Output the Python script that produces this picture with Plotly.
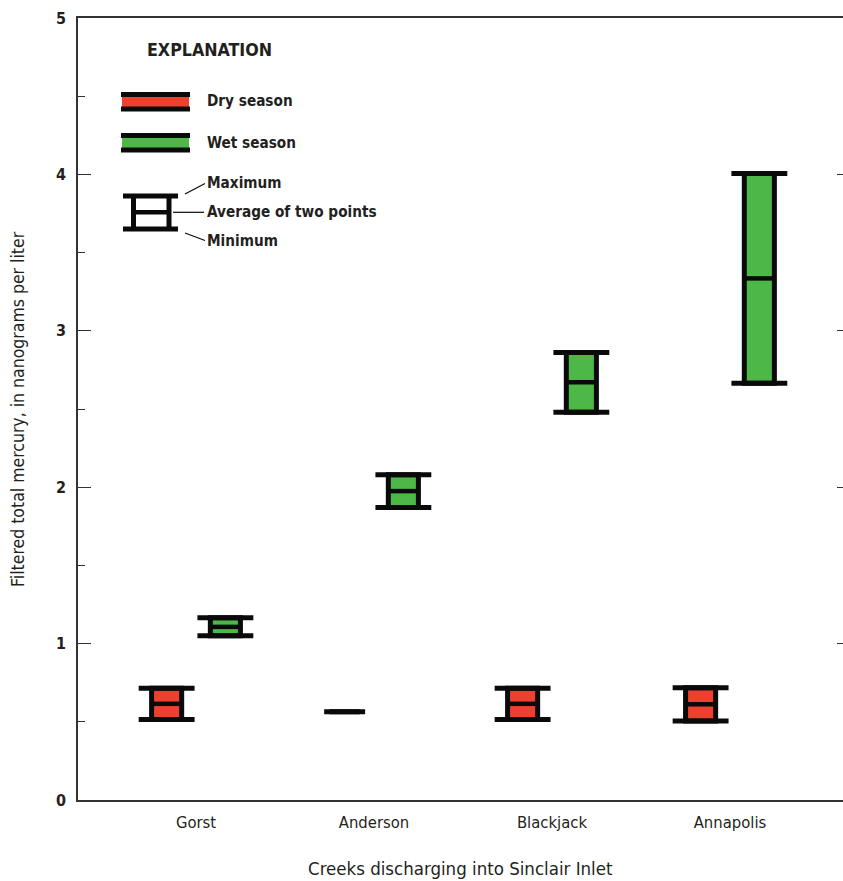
import plotly.graph_objects as go

# Filtered total mercury (ng/L) in creeks discharging into Sinclair Inlet
creeks = ["Gorst", "Anderson", "Blackjack", "Annapolis"]

dry_min = [0.515, 0.565, 0.515, 0.505]
dry_max = [0.715, 0.565, 0.715, 0.718]
dry_avg = [0.615, 0.565, 0.615, 0.612]

wet_min = [1.05, 1.87, 2.48, 2.665]
wet_max = [1.165, 2.08, 2.862, 4.005]
wet_avg = [1.107, 1.975, 2.671, 3.335]

y_ticks = [0, 1, 2, 3, 4, 5]

RED = "#EE402E"
GREEN = "#4DB848"
INK = "#0a0a0a"
FONT = "DejaVu Sans Condensed, Liberation Sans Narrow, Roboto, sans-serif"

SEASON_OFFSET = 0.165   # dry left of the creek, wet right
BOX_W = 0.169           # bar width in category units
CAP_HALF = 0.157        # half length of the min / max caps
FLAT_HALF = 0.115       # half length when min equals max

fig = go.Figure()


def add_season(mins, maxs, avgs, offset, color):
    xs = [i + offset for i in range(len(creeks))]
    fig.add_trace(go.Bar(
        x=xs, base=mins, y=[hi - lo for lo, hi in zip(mins, maxs)],
        width=BOX_W, marker=dict(color=color, line=dict(color=INK, width=5)),
        hoverinfo="skip", showlegend=False,
    ))
    cx, cy, mx, my = [], [], [], []
    for x, lo, hi, av in zip(xs, mins, maxs, avgs):
        if hi == lo:
            cx += [x - FLAT_HALF, x + FLAT_HALF, None]
            cy += [lo, lo, None]
            continue
        for v in (lo, hi):
            cx += [x - CAP_HALF, x + CAP_HALF, None]
            cy += [v, v, None]
        mx += [x - BOX_W / 2, x + BOX_W / 2, None]
        my += [av, av, None]
    fig.add_trace(go.Scatter(x=cx, y=cy, mode="lines",
                             line=dict(color=INK, width=5),
                             hoverinfo="skip", showlegend=False))
    fig.add_trace(go.Scatter(x=mx, y=my, mode="lines",
                             line=dict(color=INK, width=4.5),
                             hoverinfo="skip", showlegend=False))


add_season(dry_min, dry_max, dry_avg, -SEASON_OFFSET, RED)
add_season(wet_min, wet_max, wet_avg, SEASON_OFFSET, GREEN)

# carrier for the right-hand tick axis
fig.add_trace(go.Scatter(x=[None], y=[None], yaxis="y2", showlegend=False,
                         hoverinfo="skip"))

# ---- explanation block (pixel positions inside the figure) ----
L, R, T, B = 78, 843, 18, 800


def px(x):
    return (x - L) / (R - L)


def py(y):
    return (B - y) / (B - T)


shapes = []
annots = []


def hline(x0, x1, y, w=5):
    shapes.append(dict(type="line", xref="paper", yref="paper",
                       x0=px(x0), x1=px(x1), y0=py(y), y1=py(y),
                       line=dict(color=INK, width=w)))


def seg(x0, y0, x1, y1, w=1.2):
    shapes.append(dict(type="line", xref="paper", yref="paper",
                       x0=px(x0), x1=px(x1), y0=py(y0), y1=py(y1),
                       line=dict(color=INK, width=w)))


def rect(x0, x1, y0, y1, color):
    shapes.append(dict(type="rect", xref="paper", yref="paper",
                       x0=px(x0), x1=px(x1), y0=py(y1), y1=py(y0),
                       fillcolor=color, line=dict(width=0)))


def label(x, y, text, size=15.2):
    annots.append(dict(xref="paper", yref="paper", x=px(x), y=py(y),
                       xanchor="left", yanchor="middle", showarrow=False,
                       text="<b>%s</b>" % text,
                       font=dict(family=FONT, size=size, color="#231f20")))


label(145, 50, "EXPLANATION", size=17.7)

rect(122, 189, 96, 107, RED)
hline(121, 190, 94.5)
hline(121, 190, 109)
label(205, 101.5, "Dry season")

rect(122, 189, 137, 148, GREEN)
hline(121, 190, 135.5)
hline(121, 190, 150)
label(205, 142.5, "Wet season")

hline(123, 178, 196)
hline(123, 178, 229)
seg(133.5, 196, 133.5, 229, 5)
seg(169, 196, 169, 229, 5)
hline(133.5, 169, 212.3, 4.5)
seg(185, 194, 205, 183.5)
seg(173, 212.3, 204, 212.3)
seg(185, 233, 205, 240.5)
label(205, 183, "Maximum")
label(205, 212, "Average of two points")
label(205, 241, "Minimum")

# axis titles
annots.append(dict(xref="paper", yref="paper", x=px(460.5), y=py(869),
                   xanchor="center", yanchor="middle", showarrow=False,
                   text="Creeks discharging into Sinclair Inlet",
                   font=dict(family=FONT, size=18.5, color="#231f20")))
annots.append(dict(xref="paper", yref="paper", x=px(18), y=py(409),
                   xanchor="center", yanchor="middle", showarrow=False,
                   textangle=-90,
                   text="Filtered total mercury, in nanograms per liter",
                   font=dict(family=FONT, size=17.5, color="#231f20")))

fig.update_layout(
    width=843, height=881,
    margin=dict(l=L, r=0, t=T, b=881 - B),
    paper_bgcolor="white", plot_bgcolor="white",
    barmode="overlay", showlegend=False,
    shapes=shapes, annotations=annots,
    xaxis=dict(
        range=[-0.663, 3.635], tickmode="array",
        tickvals=list(range(len(creeks))), ticktext=creeks,
        ticks="", showgrid=False, zeroline=False,
        showline=True, mirror=True, linecolor="#333333", linewidth=1.5,
        tickfont=dict(family=FONT, size=16.5, color="#231f20"),
        ticklabelstandoff=6,
    ),
    yaxis=dict(
        range=[0, 5], tickmode="array", tickvals=y_ticks,
        ticks="inside", ticklen=13, tickwidth=1.3, tickcolor="#333333",
        minor=dict(dtick=0.5, ticks="inside", ticklen=7, tickwidth=1.3,
                   tickcolor="#333333"),
        showgrid=False, zeroline=False,
        showline=True, linecolor="#333333", linewidth=1.5,
        tickfont=dict(family=FONT, size=16, color="#231f20", weight="bold"),
        ticklabelstandoff=7,
    ),
    yaxis2=dict(
        range=[0, 5], overlaying="y", side="right", anchor="x",
        tickmode="array", tickvals=y_ticks[1:-1],
        ticks="inside", ticklen=6, tickwidth=1.3, tickcolor="#333333",
        showticklabels=False, showgrid=False, zeroline=False, showline=False,
    ),
)

fig.write_html("out.html")
